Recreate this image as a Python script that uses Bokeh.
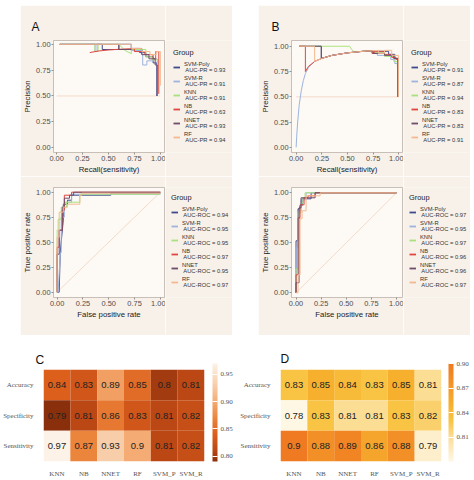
from bokeh.plotting import figure
from bokeh.models import (Range1d, FactorRange, FixedTicker, NumeralTickFormatter, Legend, LegendItem,
                          ColorBar, LinearColorMapper, ColumnDataSource, Spacer)
from bokeh.layouts import column, row
from bokeh.transform import transform
from bokeh.core.properties import value
from bokeh.embed import file_html
from bokeh.resources import INLINE

# ---------------- data ----------------
models = ["SVM-Poly", "SVM-R", "KNN", "NB", "NNET", "RF"]
auc_pr_A = [0.93, 0.91, 0.91, 0.63, 0.93, 0.94]
auc_pr_B = [0.91, 0.87, 0.94, 0.83, 0.83, 0.91]
auc_roc_A = [0.94, 0.95, 0.95, 0.97, 0.95, 0.97]
auc_roc_B = [0.97, 0.95, 0.97, 0.96, 0.96, 0.97]
axis_ticks = [0.0, 0.25, 0.5, 0.75, 1.0]

pr_baseline_x = [0.0, 1.0]
pr_baseline_y = [0.5, 0.5]
roc_diag = [0.0, 1.0]

prA_recall = [
    [0.03, 0.44, 0.44, 0.60, 0.60, 0.72, 0.72, 0.80, 0.80, 0.86, 0.86, 0.93, 0.93, 0.965, 0.965],
    [0.03, 0.37, 0.37, 0.39, 0.39, 0.72, 0.72, 0.83, 0.83, 0.87, 0.87, 0.93, 0.93, 0.97, 0.97],
    [0.03, 0.37, 0.37, 0.40, 0.40, 0.60, 0.66, 0.72, 0.72, 0.86, 0.86, 0.92, 0.92, 0.975, 0.975],
    [0.32, 0.40, 0.50, 0.60, 0.70, 0.75, 0.75, 0.85, 0.85, 0.93, 0.93, 0.955, 0.955, 0.985, 0.985],
    [0.03, 0.60, 0.60, 0.72, 0.72, 0.82, 0.82, 0.89, 0.89, 0.95, 0.95, 0.97, 0.97],
    [0.03, 0.72, 0.72, 0.82, 0.82, 0.90, 0.90, 0.96, 0.96, 1.00, 1.00],
]
prA_precision = [
    [1.00, 1.00, 0.95, 0.95, 1.00, 1.00, 0.96, 0.96, 0.92, 0.92, 0.88, 0.88, 0.82, 0.82, 0.50],
    [1.00, 1.00, 0.93, 0.93, 1.00, 1.00, 0.94, 0.94, 0.80, 0.80, 0.84, 0.84, 0.86, 0.86, 0.52],
    [1.00, 1.00, 0.93, 0.93, 1.00, 1.00, 0.94, 0.91, 0.95, 0.95, 0.88, 0.88, 0.85, 0.85, 0.52],
    [0.92, 0.935, 0.945, 0.952, 0.957, 0.958, 0.93, 0.93, 0.90, 0.90, 0.86, 0.86, 0.93, 0.93, 0.52],
    [1.00, 1.00, 0.95, 0.95, 0.96, 0.96, 0.90, 0.90, 0.86, 0.86, 0.80, 0.80, 0.50],
    [1.00, 1.00, 0.96, 0.96, 0.93, 0.93, 0.90, 0.90, 0.93, 0.93, 0.60],
]

prB_recall = [
    [0.03, 0.245, 0.245, 0.35, 0.50, 0.65, 0.74, 0.74, 0.80, 0.80, 0.90, 0.90, 0.96, 0.96, 0.99, 0.99],
    [0.0, 0.005, 0.015, 0.03, 0.05, 0.07, 0.09, 0.12, 0.18, 0.25, 0.35, 0.50, 0.65, 0.79, 0.79, 0.92, 0.92, 0.96, 0.96, 0.985, 0.985],
    [0.03, 0.52, 0.54, 0.56, 0.65, 0.74, 0.74, 0.86, 0.86, 0.95, 0.95, 0.985, 0.985],
    [0.03, 0.09, 0.09, 0.12, 0.18, 0.25, 0.35, 0.50, 0.65, 0.74, 0.74, 0.76, 0.76, 0.86, 0.86, 0.93, 0.93, 0.97, 0.97, 0.99, 0.99],
    [0.03, 0.245, 0.245, 0.35, 0.50, 0.65, 0.75, 0.75, 0.86, 0.86, 0.95, 0.95, 0.99, 0.99],
    [0.03, 0.18, 0.18, 0.25, 0.35, 0.50, 0.65, 0.80, 0.80, 0.86, 0.86, 0.93, 0.93, 0.995, 0.995],
]
prB_precision = [
    [1.00, 1.00, 0.88, 0.91, 0.935, 0.95, 0.955, 0.93, 0.93, 0.95, 0.95, 0.92, 0.92, 0.88, 0.88, 0.50],
    [0.0, 0.10, 0.25, 0.42, 0.56, 0.66, 0.73, 0.79, 0.85, 0.88, 0.91, 0.935, 0.95, 0.955, 0.91, 0.91, 0.87, 0.87, 0.83, 0.83, 0.80],
    [1.00, 1.00, 0.97, 0.945, 0.95, 0.955, 0.94, 0.94, 0.90, 0.90, 0.85, 0.85, 0.82],
    [1.00, 1.00, 0.75, 0.80, 0.85, 0.88, 0.91, 0.935, 0.95, 0.955, 0.93, 0.93, 0.95, 0.95, 0.92, 0.92, 0.89, 0.89, 0.87, 0.87, 0.50],
    [1.00, 1.00, 0.88, 0.91, 0.935, 0.95, 0.955, 0.93, 0.93, 0.91, 0.91, 0.88, 0.88, 0.50],
    [1.00, 1.00, 0.85, 0.88, 0.91, 0.935, 0.95, 0.96, 0.93, 0.93, 0.96, 0.96, 0.91, 0.91, 0.50],
]

rocA_fpr = [
    [0.00, 0.02, 0.03, 0.03, 0.06, 0.06, 0.10, 0.10, 0.14, 0.14, 0.52, 0.52, 1.00],
    [0.00, 0.01, 0.03, 0.04, 0.04, 0.07, 0.07, 0.14, 0.14, 1.00],
    [0.00, 0.00, 0.01, 0.01, 0.04, 0.04, 0.09, 0.09, 0.22, 0.22, 1.00],
    [0.00, 0.00, 0.02, 0.02, 0.05, 0.05, 0.07, 0.07, 0.14, 0.14, 1.00],
    [0.00, 0.00, 0.02, 0.02, 0.05, 0.05, 0.07, 0.07, 0.12, 0.12, 0.16, 0.16, 1.00],
    [0.00, 0.00, 0.02, 0.02, 0.06, 0.06, 0.10, 0.10, 0.22, 0.22, 0.24, 0.24, 1.00],
]
rocA_tpr = [
    [0.00, 0.00, 0.38, 0.40, 0.72, 0.88, 0.88, 0.92, 0.92, 0.97, 0.97, 0.99, 0.99],
    [0.00, 0.00, 0.38, 0.40, 0.75, 0.75, 0.90, 0.90, 0.98, 0.98],
    [0.00, 0.62, 0.62, 0.73, 0.73, 0.85, 0.85, 0.90, 0.90, 0.98, 0.98],
    [0.00, 0.45, 0.45, 0.62, 0.62, 0.82, 0.82, 0.97, 0.97, 1.00, 1.00],
    [0.00, 0.38, 0.38, 0.62, 0.62, 0.85, 0.85, 0.94, 0.94, 0.97, 0.97, 1.00, 1.00],
    [0.00, 0.55, 0.55, 0.80, 0.80, 0.85, 0.85, 0.88, 0.88, 0.97, 0.97, 0.99, 0.99],
]

rocB_fpr = [
    [0.00, 0.00, 0.02, 0.02, 0.04, 0.04, 0.06, 0.06, 0.15, 0.15, 1.00],
    [0.00, 0.00, 0.02, 0.02, 0.05, 0.05, 0.10, 0.10, 1.00],
    [0.00, 0.00, 0.02, 0.02, 0.05, 0.05, 0.07, 0.07, 0.09, 0.09, 1.00],
    [0.00, 0.00, 0.02, 0.02, 0.04, 0.04, 0.08, 0.08, 0.12, 0.12, 0.19, 0.19, 1.00],
    [0.00, 0.00, 0.03, 0.03, 0.05, 0.05, 0.12, 0.12, 0.19, 0.19, 1.00],
    [0.00, 0.02, 0.02, 0.04, 0.04, 0.06, 0.06, 0.10, 0.10, 0.12, 0.12, 0.24, 0.24, 1.00],
]
rocB_tpr = [
    [0.00, 0.52, 0.52, 0.84, 0.84, 0.87, 0.87, 0.94, 0.94, 1.00, 1.00],
    [0.00, 0.45, 0.45, 0.82, 0.82, 0.93, 0.93, 1.00, 1.00],
    [0.00, 0.24, 0.24, 0.80, 0.80, 0.90, 0.90, 0.95, 0.95, 1.00, 1.00],
    [0.00, 0.18, 0.18, 0.75, 0.75, 0.88, 0.88, 0.95, 0.95, 0.97, 0.97, 1.00, 1.00],
    [0.00, 0.10, 0.10, 0.85, 0.85, 0.95, 0.95, 0.95, 0.95, 1.00, 1.00],
    [0.00, 0.00, 0.18, 0.18, 0.74, 0.74, 0.82, 0.82, 0.97, 0.97, 0.97, 0.97, 1.00, 1.00],
]

heat_cols = ["KNN", "NB", "NNET", "RF", "SVM_P", "SVM_R"]
heat_rows = ["Accuracy", "Specificity", "Sensitivity"]
C_accuracy = [0.84, 0.83, 0.89, 0.85, 0.8, 0.81]
C_specificity = [0.79, 0.81, 0.86, 0.83, 0.81, 0.82]
C_sensitivity = [0.97, 0.87, 0.93, 0.9, 0.81, 0.82]
D_accuracy = [0.83, 0.85, 0.84, 0.83, 0.85, 0.81]
D_specificity = [0.78, 0.83, 0.81, 0.81, 0.83, 0.82]
D_sensitivity = [0.9, 0.88, 0.89, 0.86, 0.88, 0.79]
C_ticks = [0.80, 0.85, 0.90, 0.95]
D_ticks = [0.81, 0.84, 0.87, 0.90]

# ---------------- styles ----------------
line_colors = ["#3f4b8c", "#9db4df", "#a9e27c", "#e0483f", "#6e4d6b", "#f5b98f"]
PANEL_BG = "#f8f1ea"
FRAME_BG = "#fdf9f5"
SANS = "Liberation Sans"
SERIF = "Liberation Serif"

LEFT, FRAME_W, LEG_W = 31, 113, 67
PR_H, PR_TOP, PR_BOT = 171, 35, 20
ROC_H, ROC_TOP, ROC_BOT = 159, 11, 38


def ramp(stops, n=256):
    def h2rgb(h):
        return [int(h[i:i + 2], 16) for i in (1, 3, 5)]
    out = []
    lo, hi = stops[0][0], stops[-1][0]
    for k in range(n):
        v = lo + (hi - lo) * k / (n - 1)
        a, b = stops[0], stops[1]
        for j in range(len(stops) - 1):
            if stops[j][0] <= v <= stops[j + 1][0]:
                a, b = stops[j], stops[j + 1]
                break
        t = (v - a[0]) / (b[0] - a[0]) if b[0] > a[0] else 0
        ca, cb = h2rgb(a[1]), h2rgb(b[1])
        out.append("#%02x%02x%02x" % tuple(int(round(ca[i] + (cb[i] - ca[i]) * t)) for i in range(3)))
    return out


C_palette = ramp([(0.79, "#8a2f0b"), (0.81, "#bb4714"), (0.84, "#dc5f1c"), (0.87, "#ec853c"),
                  (0.90, "#f4ab74"), (0.93, "#f8cda8"), (0.97, "#fdf2e7")])
D_palette = ramp([(0.78, "#fef7e4"), (0.79, "#fdefcc"), (0.81, "#fcdd94"), (0.83, "#f9c444"),
                  (0.85, "#f7b02e"), (0.87, "#f59a2a"), (0.90, "#ef7a21")])


def set_letter(p, text, offset, standoff):
    p.title.text = text
    p.title.align = "left"
    p.title.offset = offset
    p.title.standoff = standoff
    p.title.text_font = SANS
    p.title.text_font_size = "12px"
    p.title.text_font_style = "normal"
    p.title.text_color = "#111111"


def curve_fig(h, top, bottom, xr, yr, xlabel, ylabel):
    p = figure(width=LEFT + FRAME_W + 1, height=h, x_range=Range1d(*xr), y_range=Range1d(*yr),
               output_backend="svg", toolbar_location=None,
               min_border_left=LEFT, min_border_right=1,
               min_border_top=top, min_border_bottom=bottom,
               background_fill_color=FRAME_BG, border_fill_color=PANEL_BG)
    p.outline_line_color = "#b9b0a8"
    p.outline_line_width = 0.8
    p.grid.visible = False
    for ax in (p.xaxis[0], p.yaxis[0]):
        ax.ticker = FixedTicker(ticks=axis_ticks)
        ax.formatter = NumeralTickFormatter(format="0.00")
        ax.axis_line_color = None
        ax.major_tick_line_color = "#9a938d"
        ax.major_tick_in = 0
        ax.major_tick_out = 2
        ax.minor_tick_line_color = None
        ax.major_label_text_font = SANS
        ax.major_label_text_font_size = "7.4px"
        ax.major_label_text_color = "#4d4d4d"
        ax.major_label_standoff = 1
        ax.axis_label_text_font = SANS
        ax.axis_label_text_font_size = "7.8px"
        ax.axis_label_text_font_style = "normal"
        ax.axis_label_text_color = "#1a1a1a"
        ax.axis_label_standoff = 1
    p.xaxis.axis_label = xlabel
    p.yaxis.axis_label = ylabel
    return p


def legend_fig(h, top, bottom, gap, xs, ys, labels):
    # the series are drawn here only to feed the legend; the view range keeps them out of sight
    q = figure(width=LEG_W, height=h, x_range=Range1d(5, 6), y_range=Range1d(5, 6),
               x_axis_type=None, y_axis_type=None, output_backend="svg", toolbar_location=None,
               min_border_left=0, min_border_top=top, min_border_right=0, min_border_bottom=bottom,
               background_fill_color=PANEL_BG, border_fill_color=PANEL_BG)
    q.outline_line_color = None
    q.grid.visible = False
    items = []
    for i, m in enumerate(models):
        leg = q.line(xs[i], ys[i], line_color=line_colors[i], line_width=1.8)
        items.append(LegendItem(label=f"{m}\n {labels[i]}", renderers=[leg]))
    lg = Legend(items=items, location="top_left", title="Group",
                title_text_font=SANS, title_text_font_size="7.4px", title_text_font_style="normal",
                title_text_color="#1a1a1a", title_standoff=3,
                label_text_font=SANS, label_text_font_size="5.8px", label_text_color="#333333",
                label_height=14, label_standoff=4, glyph_width=7, glyph_height=14,
                spacing=0, padding=0, margin=gap,
                border_line_color=None, background_fill_alpha=0)
    q.add_layout(lg)
    return q


def add_curves(p, xs, ys, base_x, base_y):
    p.line(base_x, base_y, line_color="#f3d3bc", line_width=0.8)
    for i in range(len(models)):
        p.line(xs[i], ys[i], line_color=line_colors[i], line_width=1.0)


# ---- Panel A ----
prA = curve_fig(PR_H, PR_TOP, PR_BOT, (-0.03, 1.04), (-0.047, 1.037), "Recall(sensitivity)", "Precision")
add_curves(prA, prA_recall, prA_precision, pr_baseline_x, pr_baseline_y)
set_letter(prA, "A", -22, 13)
legA1 = legend_fig(PR_H, PR_TOP, PR_BOT, 8, prA_recall, prA_precision,
                   [f"AUC-PR = {v:.2f}" for v in auc_pr_A])

rocA = curve_fig(ROC_H, ROC_TOP, ROC_BOT, (-0.035, 1.04), (-0.053, 1.047), "False positive rate", "True positive rate")
add_curves(rocA, rocA_fpr, rocA_tpr, roc_diag, roc_diag)
legA2 = legend_fig(ROC_H, ROC_TOP, ROC_BOT, 6, rocA_fpr, rocA_tpr,
                   [f"AUC-ROC = {v:.2f}" for v in auc_roc_A])

# ---- Panel B ----
prB = curve_fig(PR_H, PR_TOP, PR_BOT, (-0.045, 1.035), (-0.051, 1.057), "Recall(sensitivity)", "Precision")
add_curves(prB, prB_recall, prB_precision, pr_baseline_x, pr_baseline_y)
set_letter(prB, "B", -20, 13)
legB1 = legend_fig(PR_H, PR_TOP, PR_BOT, 8, prB_recall, prB_precision,
                   [f"AUC-PR = {v:.2f}" for v in auc_pr_B])

rocB = curve_fig(ROC_H, ROC_TOP, ROC_BOT, (-0.045, 1.06), (-0.047, 1.053), "False positive rate", "True positive rate")
add_curves(rocB, rocB_fpr, rocB_tpr, roc_diag, roc_diag)
legB2 = legend_fig(ROC_H, ROC_TOP, ROC_BOT, 6, rocB_fpr, rocB_tpr,
                   [f"AUC-ROC = {v:.2f}" for v in auc_roc_B])


# ---- Heatmaps ----
def heat_fig(w, left, frame_w, top, acc, spec, sens, palette, ticks, cb_x, letter, letter_off, letter_standoff):
    h = 145
    p = figure(width=w, height=h, x_range=FactorRange(*heat_cols),
               y_range=FactorRange(*heat_rows[::-1]),
               output_backend="svg", toolbar_location=None,
               min_border_left=left, min_border_right=w - left - frame_w,
               min_border_top=top, min_border_bottom=h - top - 99)
    p.outline_line_color = None
    p.grid.visible = False
    xs, ys, vals, txt = [], [], [], []
    for rname, rv in zip(heat_rows, [acc, spec, sens]):
        for c, v in zip(heat_cols, rv):
            xs.append(c); ys.append(rname); vals.append(v); txt.append(f"{v:g}")
    src = ColumnDataSource(dict(x=xs, y=ys, v=vals, t=txt))
    allv = acc + spec + sens
    mapper = LinearColorMapper(palette=palette, low=min(allv), high=max(allv))
    p.rect(x="x", y="y", width=1, height=1, source=src,
           fill_color=transform("v", mapper), line_color=None)
    p.text(x="x", y="y", text="t", source=src, text_align="center", text_baseline="middle",
           text_font=value(SANS), text_font_size="9.5px", text_color="#222222")
    for ax in (p.xaxis[0], p.yaxis[0]):
        ax.axis_line_color = None
        ax.major_tick_line_color = None
        ax.minor_tick_line_color = None
        ax.major_label_text_font = SERIF
        ax.major_label_text_font_size = "7px"
        ax.major_label_text_color = "#555555"
    p.xaxis.major_label_standoff = 2
    p.yaxis.major_label_standoff = 4
    cb = ColorBar(color_mapper=mapper, ticker=FixedTicker(ticks=ticks),
                  formatter=NumeralTickFormatter(format="0.00"),
                  width=5, height=98, margin=0, padding=0, location=(cb_x, 0),
                  major_label_text_font=SERIF, major_label_text_font_size="7px",
                  major_label_text_color="#555555", major_tick_line_color="white",
                  major_tick_in=5, major_tick_out=0, bar_line_color=None,
                  label_standoff=3, background_fill_alpha=0)
    p.add_layout(cb, "right")
    set_letter(p, letter, letter_off, letter_standoff)
    return p


heatC = heat_fig(237, 35, 169, 34, C_accuracy, C_specificity, C_sensitivity, C_palette, C_ticks, 8, "C", -8, 6)
heatD = heat_fig(237, 33, 171, 34, D_accuracy, D_specificity, D_sensitivity, D_palette, D_ticks, 7, "D", 0, 7)

colA = column(row(prA, legA1), row(rocA, legA2))
colB = column(row(prB, legB1), row(rocB, legB2))
top = row(Spacer(width=20, height=330), colA, Spacer(width=26, height=330), colB)
page = column(Spacer(width=474, height=5), top, row(heatC, heatD))

open("out.html", "w").write(file_html(page, INLINE))
